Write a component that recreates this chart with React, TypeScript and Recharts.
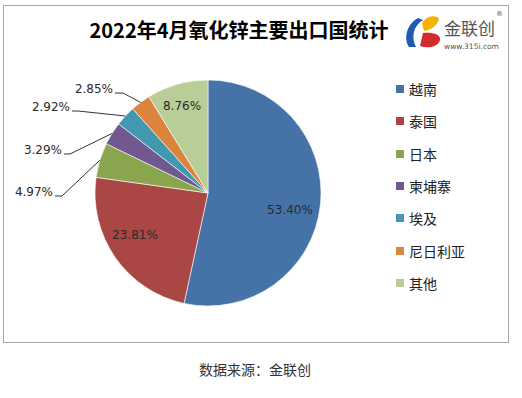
import React from 'react';
import { PieChart, Pie, Cell } from 'recharts';

const countries = ['越南', '泰国', '日本', '柬埔寨', '埃及', '尼日利亚', '其他'];
const shares = [53.4, 23.81, 4.97, 3.29, 2.92, 2.85, 8.76];
const colors = ['#4572A7', '#AA4643', '#89A54E', '#71588F', '#4198AF', '#DB843D', '#B9CD97'];
const title = '2022年4月氧化锌主要出口国统计';
const source = '数据来源：金联创';

const data = countries.map((name, i) => ({ name, value: shares[i] }));

// label layout offsets relative to pie center
const labelLayout = [
  { type: 'in', dx: 82, dy: 17 },
  { type: 'in', dx: -73, dy: 42 },
  { type: 'out', dx: -155, dy: -1, ex: -146 },
  { type: 'out', dx: -146, dy: -43, ex: -138 },
  { type: 'out', dx: -138, dy: -86, ex: -130 },
  { type: 'out', dx: -95, dy: -104, ex: -85 },
  { type: 'in', dx: -26, dy: -87 },
];

const CJK = '"Noto Sans CJK SC", "Noto Sans", sans-serif';
const NUM = '"DejaVu Sans", Verdana, sans-serif';

const RAD = Math.PI / 180;

const renderLabel = (props: any) => {
  const { cx, cy, midAngle, outerRadius, index } = props;
  const lay = labelLayout[index];
  const text = shares[index].toFixed(2) + '%';
  if (lay.type === 'in') {
    return (
      <text key={'l' + index} x={cx + lay.dx} y={cy + lay.dy} textAnchor="middle" dominantBaseline="central"
        fontFamily={NUM} fontSize={12} fill="#2a2a2a">{text}</text>
    );
  }
  const px = cx + outerRadius * Math.cos(-midAngle * RAD);
  const py = cy + outerRadius * Math.sin(-midAngle * RAD);
  const tx = cx + lay.dx;
  const ty = cy + lay.dy;
  const ly = ty + 4;
  return (
    <g key={'l' + index}>
      <polyline points={`${tx + 2},${ly} ${cx + (lay.ex as number)},${ly} ${px},${py}`} fill="none" stroke="#333" strokeWidth={1} />
      <text x={tx} y={ty} textAnchor="end" dominantBaseline="central" fontFamily={NUM} fontSize={12} fill="#2a2a2a">{text}</text>
    </g>
  );
};

export default function App() {
  return (
    <div style={{ position: 'absolute', left: 0, top: 0, width: 522, height: 398, background: '#fff', overflow: 'hidden' }}>
      <div style={{ position: 'absolute', left: 3, top: 5, width: 504, height: 336, border: '1px solid #a8a8a8' }} />
      <div style={{ position: 'absolute', left: 0, top: 16, width: 478, textAlign: 'center', fontFamily: CJK, fontWeight: 'bold', fontSize: 20, lineHeight: '28px', color: '#000' }}>{title}</div>
      <svg style={{ position: 'absolute', left: 0, top: 0 }} width={522} height={60}>
        <path d="M418,18 C407,24 403,38 409,47 L416,47 C411,38 413,26 423,20 Z" fill="#1d5cae" />
        <path d="M422,23 C426,16 436,14 439,19 C437,26 431,30 424,31 Z" fill="#f4b400" />
        <path d="M423,33 C432,32 441,34 440,40 C438,47 428,49 420,46 Z" fill="#d22b2b" />
        <text x={444} y={35} fontFamily={CJK} fontSize={17} fill="#555">金联创</text>
        <text x={444} y={49} fontFamily={NUM} fontSize={7.5} fill="#555">www.315i.com</text>
        <text x={496} y={16} fontFamily={NUM} fontSize={7} fill="#555">®</text>
      </svg>
      <div style={{ position: 'absolute', left: 0, top: 358, width: 510, textAlign: 'center', fontFamily: CJK, fontSize: 14, lineHeight: '22px', color: '#333' }}>{source}</div>
      <div style={{ position: 'absolute', left: 0, top: 0 }}>
        <PieChart width={522} height={398} margin={{ top: 0, right: 0, bottom: 0, left: 0 }}>
          <Pie data={data} dataKey="value" nameKey="name" cx={208} cy={193} outerRadius={113}
            startAngle={90} endAngle={-270} isAnimationActive={false} label={renderLabel} labelLine={false}
            stroke="#fff" strokeWidth={0.6}>
            {data.map((d, i) => <Cell key={d.name} fill={colors[i]} />)}
          </Pie>
        </PieChart>
      </div>
      <div style={{ position: 'absolute', left: 396, top: 73, fontFamily: CJK, fontSize: 14, color: '#222' }}>
        {countries.map((c, i) => (
          <div key={c} style={{ display: 'flex', alignItems: 'center', height: 32.3 }}>
            <span style={{ display: 'inline-block', width: 8, height: 8, background: colors[i], marginRight: 5 }} />
            <span>{c}</span>
          </div>
        ))}
      </div>
    </div>
  );
}
